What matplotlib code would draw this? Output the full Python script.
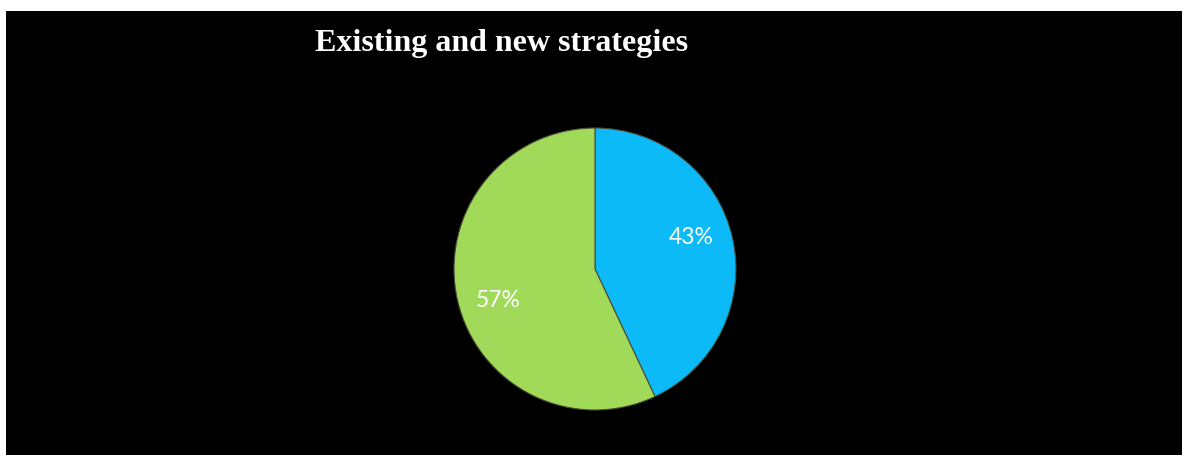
import numpy as np
import matplotlib.pyplot as plt

# data
labels = ["New strategies", "Existing strategies"]
shares = [43, 57]
colors = ["#0BBAF7", "#A1D959"]

W, H = 1188, 455
fig = plt.figure(figsize=(W / 100, H / 100), dpi=100, facecolor="white")

# black chart area with a thin white margin
bg = fig.add_axes([6 / W, 0, (1182 - 6) / W, (H - 11) / H], zorder=0)
bg.set_facecolor("black")
bg.set_xticks([])
bg.set_yticks([])
for s in bg.spines.values():
    s.set_visible(False)

cx, cy, r = 595, H - 269, 141
ax = fig.add_axes([(cx - r) / W, (cy - r) / H, 2 * r / W, 2 * r / H], zorder=1)
ax.set_facecolor("none")

wedges, texts, autotexts = ax.pie(
    shares, colors=colors, startangle=90, counterclock=False,
    autopct="%d%%", pctdistance=0.72,
    wedgeprops=dict(edgecolor="#4a4a3a", linewidth=0.8),
    textprops=dict(color="white", fontsize=16.5, family="Lato"))

# labels sit a little counter-clockwise of the wedge centre, as in the original
for w, t in zip(wedges, autotexts):
    ang = np.deg2rad((w.theta1 + w.theta2) / 2 + 5.5)
    t.set_position((0.72 * np.cos(ang), 0.72 * np.sin(ang)))

ax.set_xlim(-1, 1)
ax.set_ylim(-1, 1)

fig.text(502 / W, 1 - 44 / H, "Existing and new strategies", color="white",
         fontsize=23, fontweight="bold", family="Liberation Serif",
         ha="center", va="center", zorder=2)

fig.savefig("out.png", dpi=100, facecolor=fig.get_facecolor())
